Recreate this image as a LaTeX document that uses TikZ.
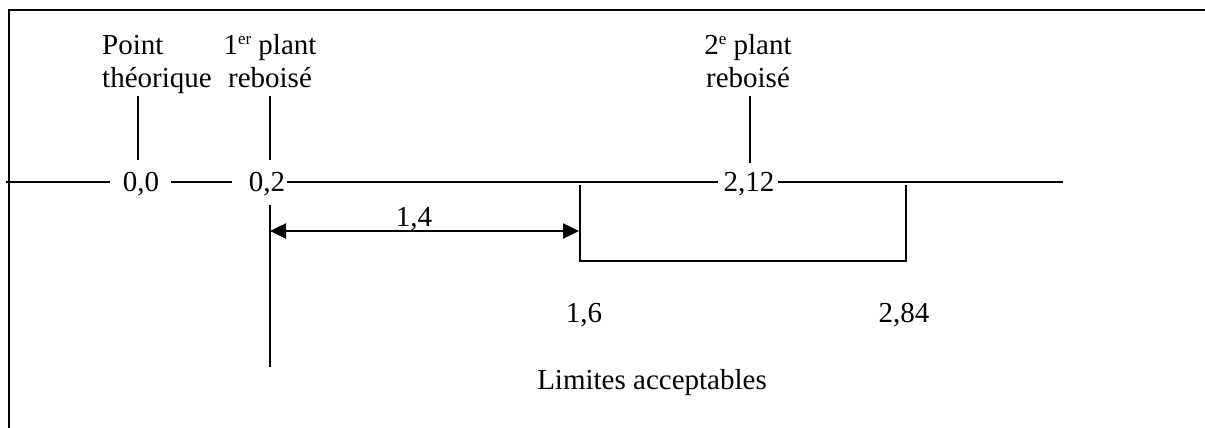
\documentclass[tikz,border=0pt]{standalone}
\usepackage{fontspec}
\setmainfont{Liberation Serif}
\usetikzlibrary{arrows.meta}
\newcommand{\supr}[1]{\raisebox{0.36em}{\fontsize{17}{17}\selectfont #1}}
\begin{document}
\begin{tikzpicture}[x=1pt,y=-1pt,
  txt/.style={inner sep=0pt, anchor=base, font=\fontsize{29}{33}\selectfont},
  ln/.style={line width=2pt, line cap=rect},
  dimarrow/.style={line width=2.4pt, {Triangle[length=16pt,width=15pt]}-{Triangle[length=16pt,width=15pt]}}]
\useasboundingbox (0,0) rectangle (1205,428);
% frame
\coordinate (fA) at (9,428);
\coordinate (fB) at (9,10);
\coordinate (fC) at (1205,10);
\draw[ln, line cap=butt] (fA) -- (fB) -- (fC);
% value nodes on the axis
\node[txt] (v00) at (141,191) {0,0};
\node[txt] (v02) at (267,191) {0,2};
\node[txt] (v212) at (749,191) {2,12};
% labels above (base anchor = baseline of the last line)
\node[txt, anchor=base west, align=left] (lbl0) at (102,88) {Point\\théorique};
\node[txt, align=center] (lbl1) at (270,88) {1\supr{er} plant\\reboisé};
\node[txt, align=center] (lbl2) at (748,88) {2\supr{e} plant\\reboisé};
% axis
\coordinate (axL) at (7,182);
\coordinate (axR) at (1062,182);
\draw[ln] (axL) -- ([xshift=-14pt]v00.west |- axL);
\draw[ln] ([xshift=13pt]v00.east |- axL) -- ([xshift=-18pt]v02.west |- axL);
\draw[ln] ([xshift=3pt]v02.east |- axL) -- ([xshift=-6pt]v212.west |- axL);
\draw[ln] ([xshift=4pt]v212.east |- axL) -- (axR);
% ticks
\coordinate (t0a) at (138,96);  \coordinate (t0b) at (138,160);
\coordinate (t1a) at (270,96);  \coordinate (t1b) at (270,160);
\coordinate (t2a) at (750,96);  \coordinate (t2b) at (750,163);
\draw[ln, line cap=butt] (t0a) -- (t0b);
\draw[ln, line cap=butt] (t1a) -- (t1b);
\draw[ln, line cap=butt] (t2a) -- (t2b);
% vertical below 0,2
\coordinate (d1a) at (270,205); \coordinate (d1b) at (270,367);
\draw[ln, line cap=butt] (d1a) -- (d1b);
% bracket
\coordinate (bL) at (580,185); \coordinate (bLd) at (580,261);
\coordinate (bR) at (906,185); \coordinate (bRd) at (906,261);
\draw[ln, line cap=butt] (bL) -- (bLd) -- (bRd) -- (bR);
% dimension arrow
\coordinate (arL) at (270,231); \coordinate (arR) at (579,231);
\draw[dimarrow] (arL) -- (arR);
\node[txt] (d14) at (414,226) {1,4};
% bottom labels
\node[txt] (v16) at (584,322) {1,6};
\node[txt] (v284) at (904,322) {2,84};
\node[txt] (lim) at (652,389) {Limites acceptables};
\end{tikzpicture}
\end{document}
